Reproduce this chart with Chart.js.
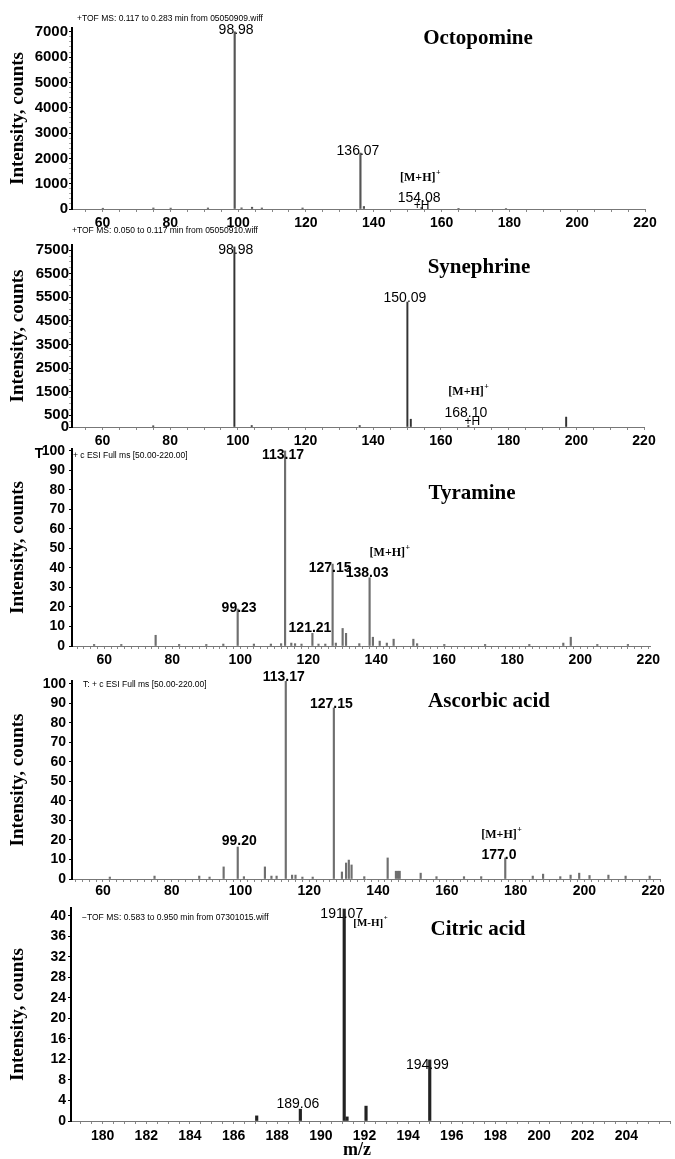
<!DOCTYPE html>
<html><head><meta charset="utf-8">
<script src="https://cdn.jsdelivr.net/npm/chart.js@4.4.1/dist/chart.umd.min.js"></script>
<style>
html,body{margin:0;padding:0;background:#fff;}
#wrap{position:relative;width:675px;height:1159px;background:#fff;}
canvas{position:absolute;left:0;top:0;}
</style></head><body><div id="wrap">
<canvas id="c1" width="675" height="1159"></canvas>
<canvas id="c2" width="675" height="1159"></canvas>
<canvas id="c3" width="675" height="1159"></canvas>
<canvas id="c4" width="675" height="1159"></canvas>
<canvas id="c5" width="675" height="1159"></canvas>
</div>
<script>
// ---------- DATA ----------
// Octopomine (TOF MS, counts)
const octoMz  = [60.1, 75.0, 80.1, 91.1, 98.98, 101.0, 104.1, 107.0, 119.0, 136.07, 137.1, 154.08, 165.0, 179.0];
const octoInt = [30, 40, 35, 40, 7000, 45, 70, 40, 40, 2210, 100, 60, 25, 20];
const octoPeakText = ['98.98', '136.07', '154.08'];
// Synephrine
const synMz  = [75.0, 98.98, 104.1, 136.0, 150.09, 151.1, 168.10, 197.0];
const synInt = [50, 7640, 60, 60, 5300, 330, 60, 420];
const synPeakText = ['98.98', '150.09', '168.10'];
// Tyramine (relative abundance)
const tyrMz  = [57.0, 65.0, 75.1, 82.0, 90.0, 95.0, 99.23, 104.0, 109.0, 112.0, 113.17, 115.0, 116.1, 118.0, 121.21, 123.0, 125.0, 127.15, 128.1, 130.1, 131.1, 135.0, 138.03, 139.0, 141.0, 143.1, 145.1, 150.9, 152.0, 160.0, 172.0, 185.0, 195.0, 197.2, 205.0, 214.0];
const tyrInt = [0.8, 0.8, 5.5, 0.8, 0.8, 1.0, 19, 1.0, 1.0, 1.2, 100, 1.5, 1.2, 1.0, 6.5, 1.0, 1.0, 42, 1.5, 9, 6.5, 1.2, 35, 4.5, 2.5, 1.5, 3.5, 3.5, 1.2, 0.8, 0.8, 0.8, 1.5, 4.5, 0.8, 0.8];
const tyrPeakText = ['113.17', '127.15', '138.03', '99.23', '121.21'];
// Ascorbic acid
const ascMz  = [62.0, 75.0, 88.0, 91.0, 95.1, 99.20, 101.0, 107.1, 109.0, 110.5, 113.17, 115.0, 116.0, 118.0, 121.0, 127.15, 129.5, 130.7, 131.5, 132.3, 136.0, 142.8, 145.2, 145.8, 146.3, 152.4, 157.0, 165.0, 170.0, 177.0, 185.0, 188.0, 193.0, 196.0, 198.5, 201.5, 207.0, 212.0, 219.0];
const ascInt = [1.0, 1.5, 1.5, 1.0, 6.2, 16.4, 1.2, 6.2, 1.5, 1.5, 101.5, 2.0, 2.0, 1.0, 1.0, 87.7, 3.6, 8.2, 9.7, 7.2, 1.2, 10.8, 4.0, 4.0, 4.0, 3.0, 1.2, 1.2, 1.2, 10.8, 1.5, 2.5, 1.2, 2.0, 3.0, 1.8, 2.0, 1.5, 1.5];
const ascPeakText = ['113.17', '127.15', '99.20', '177.0'];
// Citric acid
const citMz  = [187.06, 189.06, 191.07, 191.2, 192.07, 194.99];
const citInt = [1.0, 2.3, 41.3, 0.8, 2.9, 11.9];
const citPeakText = ['191.07', '194.99', '189.06'];

// Tick labels
const amineXTicks = [60, 80, 100, 120, 140, 160, 180, 200, 220];
const citXTicks = [180, 182, 184, 186, 188, 190, 192, 194, 196, 198, 200, 202, 204];
const octoYTicks = [0, 1000, 2000, 3000, 4000, 5000, 6000, 7000];
const synYTicks = [0, 500, 1500, 2500, 3500, 4500, 5500, 6500, 7500];
const pctYTicks = [0, 10, 20, 30, 40, 50, 60, 70, 80, 90, 100];
const citYTicks = [0, 4, 8, 12, 16, 20, 24, 28, 32, 36, 40];

// Texts
const compoundNames = ['Octopomine', 'Synephrine', 'Tyramine', 'Ascorbic acid', 'Citric acid'];
const infoTexts = ['+TOF MS: 0.117 to 0.283 min from 05050909.wiff', '+TOF MS: 0.050 to 0.117 min from 05050910.wiff',
  '+ c ESI Full ms [50.00-220.00]', 'T: + c ESI Full ms [50.00-220.00]', '\u2212TOF MS: 0.583 to 0.950 min from 07301015.wiff'];
const yTitle = 'Intensity, counts';
const xTitle = 'm/z';

// ---------- HELPERS ----------
const W = 675, H = 1159;
const SANS = '"Liberation Sans", Arial, sans-serif';
const SERIF = '"Liberation Serif", "Times New Roman", serif';
const has = (arr, v) => arr.some(a => Math.abs(a - v) < 1e-6);
// tick marks (major + minor) between min and max at a given step
function tickValues(min, max, step) {
  const out = [];
  for (let k = Math.ceil(min / step - 1e-9); k * step <= max + 1e-9; k++) out.push(Math.round(k * step * 1000) / 1000);
  return out.map(v => ({ value: v }));
}

function drawSup(ctx, base, sup, cx, cy, size) {
  const f1 = `bold ${size}px ${SERIF}`, f2 = `bold ${Math.round(size * 0.65)}px ${SERIF}`;
  ctx.font = f1; const wb = ctx.measureText(base).width;
  ctx.font = f2; const ws = ctx.measureText(sup).width;
  const left = cx - (wb + ws) / 2;
  ctx.textAlign = 'left'; ctx.textBaseline = 'middle';
  ctx.font = f1; ctx.fillText(base, left, cy);
  ctx.font = f2; ctx.fillText(sup, left + wb + 0.5, cy - size * 0.4);
}

function makePanel(p) {
  const a = p.area;
  const data = p.mz.map((m, i) => ({ x: m, y: p.inten[i] }));
  const peakVal = t => { const v = parseFloat(t); const i = p.mz.findIndex(m => Math.abs(m - v) < 1e-6); return [v, p.inten[i]]; };
  const annot = {
    id: 'annot' + p.id,
    afterDraw(chart) {
      const ctx = chart.ctx, xs = chart.scales.x, ys = chart.scales.y;
      ctx.save();
      ctx.fillStyle = '#000';
      ctx.font = `bold 21px ${SERIF}`; ctx.textAlign = 'center'; ctx.textBaseline = 'middle';
      ctx.fillText(p.name, p.namePos[0], p.namePos[1]);
      ctx.font = `8.5px ${SANS}`; ctx.textAlign = 'left';
      ctx.fillText(p.info, p.infoPos[0], p.infoPos[1]);
      ctx.font = p.labelFont;
      p.peakText.forEach((t, i) => {
        const [m, v] = peakVal(t);
        const w = ctx.measureText(t.split('.')[0]).width;
        ctx.textAlign = 'left';
        ctx.fillText(t, xs.getPixelForValue(m) - w - 0.5, ys.getPixelForValue(v) + p.peakDy[i]);
      });
      if (p.ion) {
        const [m, v] = peakVal(p.ion.anchor);
        drawSup(ctx, p.ion.base, p.ion.sup, xs.getPixelForValue(m) + p.ion.dx, ys.getPixelForValue(v) + p.ion.dy, p.ion.size);
      }
      if (p.marker) {
        const [m, v] = peakVal(p.marker.anchor);
        ctx.font = `12px ${SANS}`; ctx.textAlign = 'center';
        ctx.fillText(p.marker.text, xs.getPixelForValue(m) + p.marker.dx, ys.getPixelForValue(v) + p.marker.dy);
      }
      (p.extra || []).forEach(e => {
        ctx.font = e.font; ctx.textAlign = e.align || 'center';
        ctx.fillText(e.text, e.x, e.y);
      });
      ctx.restore();
    }
  };
  return new Chart(document.getElementById(p.id), {
    type: 'bar',
    data: { datasets: [{ data, backgroundColor: p.color, borderWidth: 0, barThickness: p.thick }] },
    options: {
      responsive: false, animation: false, devicePixelRatio: 1,
      layout: { padding: { left: 0, top: a.t, right: W - a.r, bottom: H - a.b - 20 } },
      plugins: { legend: { display: false }, tooltip: { enabled: false } },
      scales: {
        x: {
          type: 'linear', min: p.xmin, max: p.xmax, offset: false,
          afterFit: s => { s.height = 20; },
          afterBuildTicks: s => { s.ticks = tickValues(p.xmin, p.xmax, p.xstep); },
          ticks: { autoSkip: false, maxRotation: 0, color: '#000', padding: p.xPad,
            font: { family: SANS, size: p.xFont, weight: 'bold' },
            callback: v => has(p.xlabels, v) ? String(v) : '' },
          grid: { display: true, drawOnChartArea: false, drawTicks: true, tickLength: 3, color: '#888', offset: false },
          border: { display: true, color: '#777', width: 1 }
        },
        y: {
          min: 0, max: p.ymax,
          afterFit: s => { s.width = a.l; },
          afterBuildTicks: s => { s.ticks = tickValues(0, p.ymax, p.ystep); },
          ticks: { autoSkip: false, color: '#000', padding: p.yPad,
            font: { family: SANS, size: p.yFont, weight: 'bold' },
            callback: v => has(p.ylabels, v) ? String(v) : '' },
          grid: { display: true, drawOnChartArea: false, drawTicks: true, tickLength: 3,
            tickColor: c => (c.tick && has(p.ylabels, c.tick.value)) ? '#000' : '#aaa' },
          border: { display: true, color: '#000', width: 2 },
          title: { display: true, text: yTitle, color: '#000', padding: { top: 7, bottom: 0 },
            font: { family: SERIF, size: 19, weight: 'bold' } }
        }
      }
    },
    plugins: [annot]
  });
}

const sansReg = `14px ${SANS}`, sansBold = `bold 14px ${SANS}`;

makePanel({ id: 'c1', mz: octoMz, inten: octoInt, color: '#555', thick: 1.5,
  xmin: 51, xmax: 220, xstep: 5, xlabels: amineXTicks, xPad: 3, xFont: 14,
  ymax: 7150, ystep: 200, ylabels: octoYTicks, yPad: 1, yFont: 15,
  area: { l: 72, r: 645, t: 28, b: 209 },
  name: compoundNames[0], namePos: [478, 39], info: infoTexts[0], infoPos: [77, 19],
  labelFont: sansReg, peakText: octoPeakText, peakDy: [-2, -2, -9],
  ion: { base: '[M+H]', sup: '+', anchor: '154.08', dx: -1.5, dy: -29.5, size: 12 },
  marker: { text: '+H', anchor: '154.08', dx: 0, dy: -2 } });

makePanel({ id: 'c2', mz: synMz, inten: synInt, color: '#333', thick: 1.3,
  xmin: 51, xmax: 220, xstep: 5, xlabels: amineXTicks, xPad: 3, xFont: 14,
  ymax: 7720, ystep: 250, ylabels: synYTicks, yPad: 0, yFont: 15,
  area: { l: 72, r: 644, t: 245, b: 427 },
  name: compoundNames[1], namePos: [479, 268], info: infoTexts[1], infoPos: [72, 231],
  labelFont: sansReg, peakText: synPeakText, peakDy: [3, -4, -12.6],
  ion: { base: '[M+H]', sup: '+', anchor: '168.10', dx: 0, dy: -33.6, size: 12 },
  marker: { text: '+H', anchor: '168.10', dx: 4, dy: -4 } });

makePanel({ id: 'c3', mz: tyrMz, inten: tyrInt, color: '#6f6f6f', thick: 1.5,
  xmin: 50.5, xmax: 220.5, xstep: 2, xlabels: amineXTicks, xPad: 3, xFont: 14,
  ymax: 101, ystep: 10, ylabels: pctYTicks, yPad: 4, yFont: 14,
  area: { l: 72, r: 650, t: 449, b: 646 },
  name: compoundNames[2], namePos: [472, 494], info: infoTexts[2], infoPos: [73, 456],
  labelFont: sansBold, peakText: tyrPeakText, peakDy: [4, 4, -5, -1, -5],
  ion: { base: '[M+H]', sup: '+', anchor: '138.03', dx: 20, dy: -24.7, size: 12 },
  extra: [{ text: 'T', x: 39, y: 454, font: `bold 14px ${SANS}` }] });

makePanel({ id: 'c4', mz: ascMz, inten: ascInt, color: '#6f6f6f', thick: 1.5,
  xmin: 51, xmax: 222, xstep: 2, xlabels: amineXTicks, xPad: 1, xFont: 14,
  ymax: 101.5, ystep: 10, ylabels: pctYTicks, yPad: 3, yFont: 14,
  area: { l: 72, r: 660, t: 681, b: 879 },
  name: compoundNames[3], namePos: [489, 702], info: infoTexts[3], infoPos: [83, 685],
  labelFont: sansBold, peakText: ascPeakText, peakDy: [-4, -4, -6, -3],
  ion: { base: '[M+H]', sup: '+', anchor: '177.0', dx: -4, dy: -23, size: 12 } });

makePanel({ id: 'c5', mz: citMz, inten: citInt, color: '#222', thick: 2.5,
  xmin: 178.55, xmax: 206, xstep: 0.5, xlabels: citXTicks, xPad: 4, xFont: 14,
  ymax: 41.5, ystep: 4, ylabels: citYTicks, yPad: 2, yFont: 14,
  area: { l: 71, r: 670, t: 908, b: 1121 },
  name: compoundNames[4], namePos: [478, 930], info: infoTexts[4], infoPos: [82, 918],
  labelFont: sansReg, peakText: citPeakText, peakDy: [5, 5, -5],
  ion: { base: '[M-H]', sup: '+', anchor: '191.07', dx: 26, dy: 14, size: 11 },
  extra: [{ text: xTitle, x: 357, y: 1150, font: `bold 18px ${SERIF}` }] });
</script></body></html>
